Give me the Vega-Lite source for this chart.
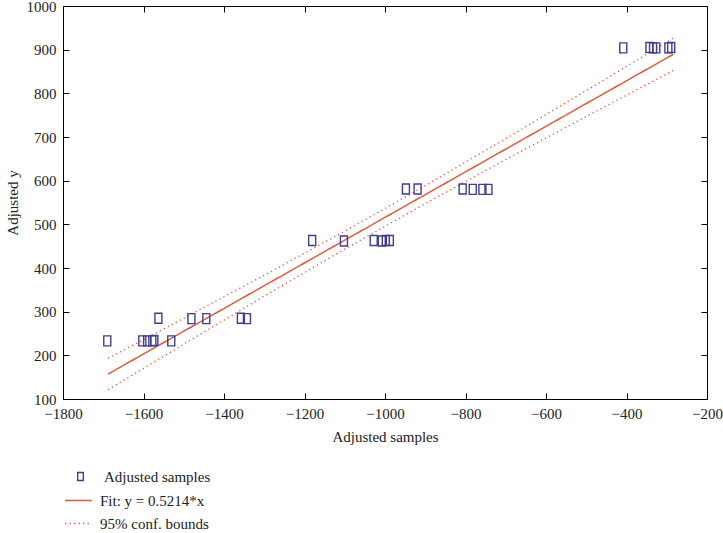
{
  "$schema": "https://vega.github.io/schema/vega-lite/v6.json",
  "width": 644,
  "height": 393,
  "autosize": {"type": "none"},
  "padding": {"left": 63, "top": 6, "right": 16, "bottom": 134},
  "background": "white",
  "config": {
    "font": "Liberation Serif",
    "view": {"stroke": "black", "strokeWidth": 1},
    "axis": {
      "grid": false,
      "domainColor": "black",
      "tickColor": "black",
      "labelColor": "#222222",
      "titleColor": "#222222",
      "labelFont": "Liberation Serif",
      "titleFont": "Liberation Serif",
      "labelFontSize": 15,
      "titleFontSize": 15,
      "titleFontWeight": "normal",
      "tickSize": -6,
      "labelPadding": 13,
      "labelFlush": false,
      "labelOverlap": false
    },
    "legend": {
      "labelFont": "Liberation Serif",
      "labelFontSize": 15,
      "labelColor": "#222222",
      "padding": 0,
      "rowPadding": 0,
      "symbolStrokeWidth": 1.4
    }
  },
  "datasets": {
    "samples": [
      {"x": -1690, "y": 233, "series": "Adjusted samples"},
      {"x": -1603, "y": 233, "series": "Adjusted samples"},
      {"x": -1591, "y": 233, "series": "Adjusted samples"},
      {"x": -1578, "y": 233, "series": "Adjusted samples"},
      {"x": -1573, "y": 234, "series": "Adjusted samples"},
      {"x": -1531, "y": 233, "series": "Adjusted samples"},
      {"x": -1563, "y": 285, "series": "Adjusted samples"},
      {"x": -1481, "y": 284, "series": "Adjusted samples"},
      {"x": -1444, "y": 284, "series": "Adjusted samples"},
      {"x": -1358, "y": 285, "series": "Adjusted samples"},
      {"x": -1343, "y": 284, "series": "Adjusted samples"},
      {"x": -1181, "y": 463, "series": "Adjusted samples"},
      {"x": -1102, "y": 462, "series": "Adjusted samples"},
      {"x": -1028, "y": 463, "series": "Adjusted samples"},
      {"x": -1008, "y": 462, "series": "Adjusted samples"},
      {"x": -998, "y": 463, "series": "Adjusted samples"},
      {"x": -988, "y": 463, "series": "Adjusted samples"},
      {"x": -948, "y": 581, "series": "Adjusted samples"},
      {"x": -919, "y": 581, "series": "Adjusted samples"},
      {"x": -807, "y": 581, "series": "Adjusted samples"},
      {"x": -782, "y": 580, "series": "Adjusted samples"},
      {"x": -758, "y": 580, "series": "Adjusted samples"},
      {"x": -743, "y": 580, "series": "Adjusted samples"},
      {"x": -408, "y": 904, "series": "Adjusted samples"},
      {"x": -343, "y": 905, "series": "Adjusted samples"},
      {"x": -334, "y": 904, "series": "Adjusted samples"},
      {"x": -326, "y": 904, "series": "Adjusted samples"},
      {"x": -296, "y": 904, "series": "Adjusted samples"},
      {"x": -289, "y": 905, "series": "Adjusted samples"}
    ],
    "fit": [
      {"x": -1688, "y": 157.2, "series": "Fit: y = 0.5214*x"},
      {"x": -284, "y": 889.2, "series": "Fit: y = 0.5214*x"}
    ],
    "bounds": [
      {"x": -1688, "y": 193.2, "bound": "upper", "series": "95% conf. bounds"},
      {"x": -1500, "y": 284.8, "bound": "upper", "series": "95% conf. bounds"},
      {"x": -1300, "y": 383.4, "bound": "upper", "series": "95% conf. bounds"},
      {"x": -1100, "y": 484.3, "bound": "upper", "series": "95% conf. bounds"},
      {"x": -900, "y": 588.5, "bound": "upper", "series": "95% conf. bounds"},
      {"x": -700, "y": 696.2, "bound": "upper", "series": "95% conf. bounds"},
      {"x": -500, "y": 806.2, "bound": "upper", "series": "95% conf. bounds"},
      {"x": -284, "y": 926.2, "bound": "upper", "series": "95% conf. bounds"},
      {"x": -1688, "y": 121.2, "bound": "lower", "series": "95% conf. bounds"},
      {"x": -1500, "y": 225.6, "bound": "lower", "series": "95% conf. bounds"},
      {"x": -1300, "y": 335.6, "bound": "lower", "series": "95% conf. bounds"},
      {"x": -1100, "y": 443.3, "bound": "lower", "series": "95% conf. bounds"},
      {"x": -900, "y": 547.5, "bound": "lower", "series": "95% conf. bounds"},
      {"x": -700, "y": 648.4, "bound": "lower", "series": "95% conf. bounds"},
      {"x": -500, "y": 747.0, "bound": "lower", "series": "95% conf. bounds"},
      {"x": -284, "y": 852.2, "bound": "lower", "series": "95% conf. bounds"}
    ]
  },
  "layer": [
    {
      "data": {"name": "fit"},
      "mark": {"type": "line", "strokeWidth": 1.5, "color": "#e05a3c"},
      "encoding": {
        "x": {"field": "x", "type": "quantitative", "scale": {"domain": [-1800, -200], "nice": false, "zero": false},
              "axis": {"orient": "top", "labels": false, "title": null, "domain": false, "values": [-1800, -1600, -1400, -1200, -1000, -800, -600, -400, -200]}},
        "y": {"field": "y", "type": "quantitative", "scale": {"domain": [100, 1000], "nice": false, "zero": false},
              "axis": {"orient": "right", "labels": false, "title": null, "domain": false, "values": [100, 200, 300, 400, 500, 600, 700, 800, 900, 1000]}},
        "strokeDash": {
          "field": "series", "type": "nominal",
          "scale": {"domain": ["Fit: y = 0.5214*x", "95% conf. bounds"], "range": [[1, 0], [1.3, 3.2]]},
          "legend": {"orient": "none", "legendX": 1, "legendY": 480, "title": null, "symbolSize": 729, "labelOffset": 7, "symbolType": "stroke"}
        }
      }
    },
    {
      "data": {"name": "bounds"},
      "mark": {"type": "line", "strokeWidth": 1.3, "color": "#e05a3c"},
      "encoding": {
        "x": {"field": "x", "type": "quantitative", "axis": null},
        "y": {"field": "y", "type": "quantitative", "axis": null},
        "detail": {"field": "bound"},
        "strokeDash": {"field": "series", "type": "nominal"}
      }
    },
    {
      "data": {"name": "samples"},
      "mark": {"type": "point", "size": 100, "filled": false, "strokeWidth": 1.4, "opacity": 1, "color": "#3d3d92"},
      "encoding": {
        "x": {"field": "x", "type": "quantitative",
              "axis": {"orient": "bottom", "title": "Adjusted samples", "titlePadding": 8, "format": "d", "values": [-1800, -1600, -1400, -1200, -1000, -800, -600, -400, -200]}},
        "y": {"field": "y", "type": "quantitative",
              "axis": {"orient": "left", "title": "Adjusted y", "titlePadding": 6, "format": "d", "values": [100, 200, 300, 400, 500, 600, 700, 800, 900, 1000]}},
        "shape": {
          "field": "series", "type": "nominal",
          "scale": {"domain": ["Adjusted samples"], "range": ["M-0.7,-1L0.7,-1L0.7,1L-0.7,1Z"]},
          "legend": {"orient": "none", "legendX": 10, "legendY": 463, "title": null, "symbolSize": 64, "labelOffset": 16}
        }
      }
    }
  ]
}
